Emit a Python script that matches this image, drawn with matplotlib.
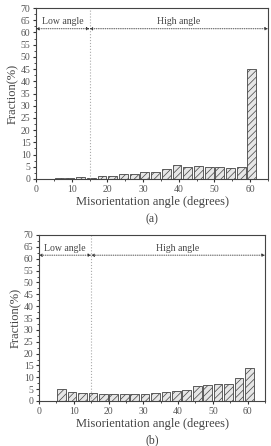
import matplotlib
matplotlib.use('Agg')
import matplotlib.pyplot as plt
from matplotlib.ticker import MultipleLocator

plt.rcParams['font.family'] = ['Liberation Serif', 'DejaVu Serif']
plt.rcParams['hatch.color'] = '#555555'
plt.rcParams['hatch.linewidth'] = 0.5

# bin centres (degrees), 3 degree bins from 5 to 62
angles = [6.5, 9.5, 12.5, 15.5, 18.5, 21.5, 24.5, 27.5, 30.5, 33.5,
          36.5, 39.5, 42.5, 45.5, 48.5, 51.5, 54.5, 57.5, 60.5]
frac_a = [0.5, 0.5, 0.9, 0.6, 1.3, 1.4, 2.0, 1.9, 2.7, 2.8,
          3.9, 5.9, 4.8, 5.2, 4.9, 5.1, 4.4, 4.8, 45.0]
frac_b = [5.2, 4.0, 3.4, 3.3, 3.0, 3.0, 2.8, 3.0, 3.0, 3.4,
          3.8, 4.4, 4.8, 6.2, 6.6, 7.0, 7.1, 9.9, 13.8]
panels = ['(a)', '(b)']

fig = plt.figure(figsize=(2.71, 4.46), dpi=100)
# axes positions in figure fractions
boxes = [[36/271, 1-179/446, 232/271, 171/446],
         [39/271, 1-401/446, 226/271, 166/446]]

for box, vals, name in zip(boxes, [frac_a, frac_b], panels):
    ax = fig.add_axes(box)
    ax.bar(angles, vals, width=2.5, color='#e6e6e6', edgecolor='#444444',
           linewidth=0.6, hatch='/////')
    ax.set_xlim(0, 65)
    ax.set_ylim(0, 70)
    ax.xaxis.set_major_locator(MultipleLocator(10))
    ax.xaxis.set_minor_locator(MultipleLocator(5))
    ax.yaxis.set_major_locator(MultipleLocator(5))
    ax.yaxis.set_minor_locator(MultipleLocator(2.5))
    ax.tick_params(which='both', direction='out', labelsize=7,
                   colors='#333333', labelcolor='#555555', pad=1.5)
    ax.tick_params(which='major', length=2.5, width=0.8)
    ax.tick_params(which='minor', length=1.5, width=0.6)
    for s in ax.spines.values():
        s.set_color('#444444')
        s.set_linewidth(0.8)
    ax.set_xlabel('Misorientation angle (degrees)', fontsize=9,
                  color='#444444', labelpad=2)
    ax.set_ylabel('Fraction(%)', fontsize=9, color='#444444', labelpad=1)
    # low / high angle boundary
    ax.axvline(15, color='#aaaaaa', linestyle=':', linewidth=0.8)
    ax.annotate('', xy=(0, 61.5), xytext=(15, 61.5),
                arrowprops=dict(arrowstyle='<|-|>', linestyle=':', color='#333333',
                                lw=0.6, mutation_scale=4, shrinkA=0, shrinkB=0))
    ax.annotate('', xy=(15, 61.5), xytext=(65, 61.5),
                arrowprops=dict(arrowstyle='<|-|>', linestyle=':', color='#333333',
                                lw=0.6, mutation_scale=4, shrinkA=0, shrinkB=0))
    ax.text(7.5, 62.5, 'Low angle', ha='center', va='bottom', fontsize=7,
            color='#444444')
    ax.text(40, 62.5, 'High angle', ha='center', va='bottom', fontsize=7,
            color='#444444')
    ax.text(0.5, -0.235, name, transform=ax.transAxes, ha='center', va='center',
            fontsize=8.5, color='#444444')

fig.savefig('out.png', dpi=100)
